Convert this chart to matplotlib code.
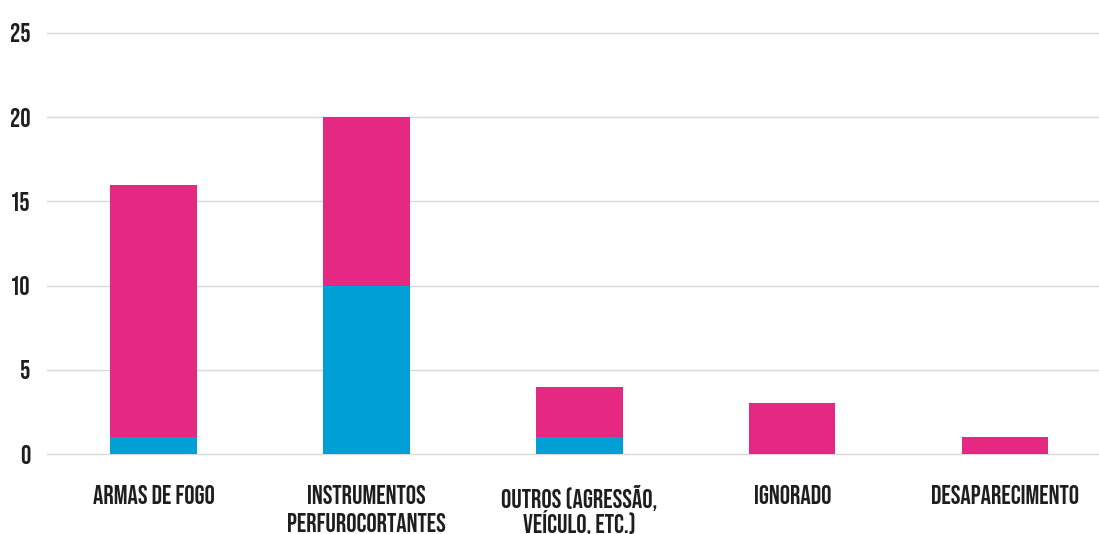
import matplotlib
matplotlib.use("Agg")
import matplotlib.pyplot as plt
import numpy as np

# Causes of death, split in two groups (blue at the base, pink on top)
categories = ["ARMAS DE FOGO", "INSTRUMENTOS\nPERFUROCORTANTES",
              "OUTROS (AGRESSÃO,\nVEÍCULO, ETC.)", "IGNORADO", "DESAPARECIMENTO"]
blue_vals = [1, 10, 1, 0, 0]
pink_vals = [15, 10, 3, 3, 1]
y_ticks = [0, 5, 10, 15, 20, 25]

BLUE = "#009FD5"
PINK = "#E52882"
GRID = "#D9D9D9"
TEXT = "#1e1e1e"

plt.rcParams["font.family"] = ["Bebas Neue", "DejaVu Sans"]

fig = plt.figure(figsize=(10.99, 5.34), dpi=100)
ax = fig.add_axes([47 / 1099, 80 / 534, 1 - 47 / 1099, 421 / 534])

x = np.arange(len(categories))
ax.bar(x, blue_vals, width=0.405, color=BLUE, zorder=3)
ax.bar(x, pink_vals, width=0.405, bottom=blue_vals, color=PINK, zorder=3)

# the last slot runs a little past the right edge
ax.set_xlim(-0.5, 4.44)
ax.set_ylim(0, 25)
ax.set_yticks(y_ticks)
ax.set_yticklabels([str(t) for t in y_ticks])
for t in y_ticks:
    ax.axhline(t, color=GRID, lw=1, zorder=1, clip_on=False)

ax.set_xticks(x)
ax.set_xticklabels(categories, fontsize=18.5, linespacing=1.5, va="top")
# accented capitals make that label's lines taller, so tighten it
ax.get_xticklabels()[2].set_linespacing(0.98)
ax.tick_params(axis="x", length=0, pad=22, labelcolor=TEXT)
ax.tick_params(axis="y", length=0, pad=12, labelsize=18.5, labelcolor=TEXT)

for s in ax.spines.values():
    s.set_visible(False)

fig.savefig("out.png", dpi=100)
